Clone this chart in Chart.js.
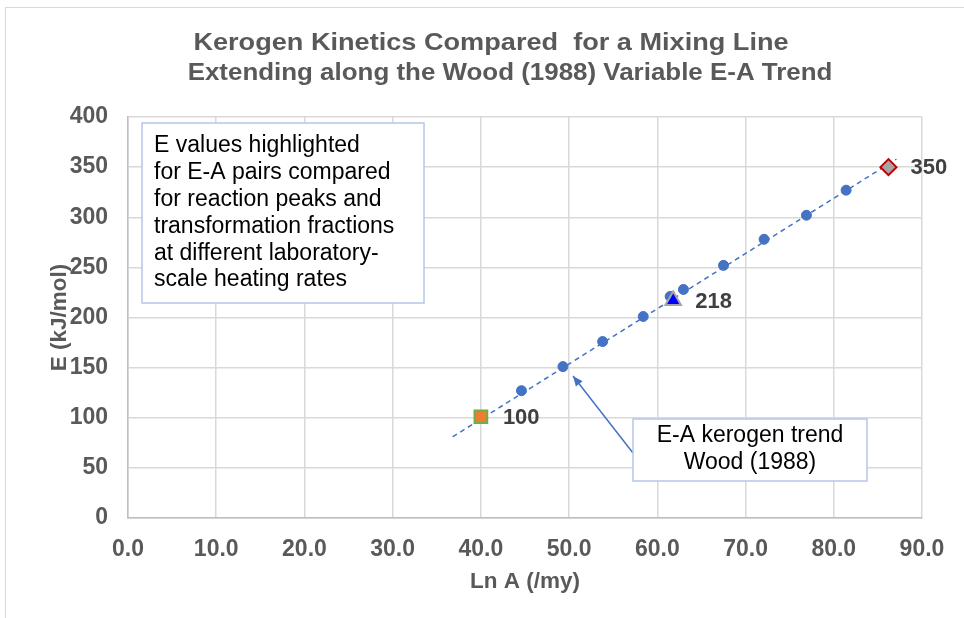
<!DOCTYPE html>
<html>
<head>
<meta charset="utf-8">
<script src="https://cdn.jsdelivr.net/npm/chart.js@4.4.0/dist/chart.umd.min.js"></script>
<style>
  body { margin: 0; background: #fff; }
  #frame { position: absolute; left: 5px; top: 7px; width: 970px; height: 620px;
           border-left: 1.5px solid #d9d9d9; border-top: 1.5px solid #d9d9d9; }
  #wrap { position: absolute; left: 0; top: 0; width: 964px; height: 618px; }
</style>
</head>
<body>
<div id="frame"></div>
<div id="wrap"><canvas id="myChart" width="964" height="618"></canvas></div>
<script>
// Ln A (/my) et E (kJ/mol) des points de la tendance Wood (1988)
var trendLnA = [44.6, 49.3, 53.8, 58.4, 61.45, 62.96, 67.5, 72.1, 76.9, 81.4];
var trendE = [127, 151, 176, 201, 221, 228, 252, 278, 302, 327];

// ligne pointillée de la tendance (extrémités)
var lineLnA = [36.8, 87.1];
var lineE = [81, 358];

// paires E-A mises en évidence
var highlightLnA = [40.0, 61.8, 86.2];
var highlightE = [101, 217, 350];
var highlightLabels = ['100', '218', '350'];

var xTicks = [0, 10, 20, 30, 40, 50, 60, 70, 80, 90];
var yTicks = [0, 50, 100, 150, 200, 250, 300, 350, 400];

var titleLines = ['Kerogen Kinetics Compared  for a Mixing Line',
                  'Extending along the Wood (1988) Variable E-A Trend'];
var noteLines = ['E values highlighted', 'for E-A pairs compared', 'for reaction peaks and',
                 'transformation fractions', 'at different laboratory-', 'scale heating rates'];
var trendNote = ['E-A kerogen trend', 'Wood (1988)'];

function pts(xs, ys) {
    return xs.map(function(x, i) { return { x: x, y: ys[i] }; });
}

var FONT = '"Liberation Sans", Arial, sans-serif';
var GREY = '#595959';

// dessine titre, encadrés, flèche et étiquettes
var extras = {
    id: 'extras',
    afterDraw: function(chart) {
        var ctx = chart.ctx;
        var xs = chart.scales.x, ys = chart.scales.y;
        ctx.save();

        // titre (étiré en largeur comme l'original)
        ctx.fillStyle = GREY;
        ctx.font = 'bold 24px ' + FONT;
        ctx.textAlign = 'center';
        ctx.textBaseline = 'middle';
        [[1.13, 491, 43], [1.08, 510, 73]].forEach(function(p, i) {
            ctx.save();
            ctx.scale(p[0], 1);
            ctx.fillText(titleLines[i], p[1] / p[0], p[2]);
            ctx.restore();
        });

        // étiquettes des points mis en évidence
        ctx.font = 'bold 22px ' + FONT;
        ctx.fillStyle = '#404040';
        ctx.textAlign = 'left';
        highlightLnA.forEach(function(x, i) {
            ctx.fillText(highlightLabels[i], xs.getPixelForValue(x) + 22, ys.getPixelForValue(highlightE[i]) + 1);
        });

        // encadré de gauche
        ctx.fillStyle = '#fff';
        ctx.fillRect(142, 123, 282, 180);
        ctx.strokeStyle = '#b4c7e7';
        ctx.lineWidth = 1.5;
        ctx.strokeRect(142, 123, 282, 180);
        ctx.fillStyle = '#000';
        ctx.font = '23px ' + FONT;
        ctx.textAlign = 'left';
        noteLines.forEach(function(t, i) {
            ctx.fillText(t, 154, 146 + i * 26.8);
        });

        // flèche vers la tendance
        var tipX = 573, tipY = 376, tailX = 633, tailY = 453;
        ctx.strokeStyle = '#4472c4';
        ctx.fillStyle = '#4472c4';
        ctx.lineWidth = 1.5;
        ctx.beginPath();
        ctx.moveTo(tailX, tailY);
        ctx.lineTo(tipX, tipY);
        ctx.stroke();
        var ang = Math.atan2(tipY - tailY, tipX - tailX);
        ctx.beginPath();
        ctx.moveTo(tipX, tipY);
        ctx.lineTo(tipX - 11 * Math.cos(ang - 0.4), tipY - 11 * Math.sin(ang - 0.4));
        ctx.lineTo(tipX - 11 * Math.cos(ang + 0.4), tipY - 11 * Math.sin(ang + 0.4));
        ctx.closePath();
        ctx.fill();

        // encadré de la tendance
        ctx.fillStyle = '#fff';
        ctx.fillRect(633, 419, 234, 62);
        ctx.strokeStyle = '#b4c7e7';
        ctx.strokeRect(633, 419, 234, 62);
        ctx.fillStyle = '#000';
        ctx.textAlign = 'center';
        ctx.fillText(trendNote[0], 750, 436);
        ctx.fillText(trendNote[1], 750, 463);

        ctx.restore();
    }
};

document.addEventListener('DOMContentLoaded', function() {
    var ctx = document.getElementById('myChart').getContext('2d');

    new Chart(ctx, {
        type: 'scatter',
        data: {
            datasets: [
                {
                    // ligne pointillée
                    data: pts(lineLnA, lineE),
                    showLine: true,
                    borderColor: '#4472c4',
                    borderWidth: 1.5,
                    borderDash: [5, 4],
                    pointRadius: 0,
                    order: 4
                },
                {
                    data: pts(trendLnA, trendE),
                    backgroundColor: '#4472c4',
                    borderColor: '#4472c4',
                    pointRadius: 5,
                    order: 3
                },
                {
                    data: pts([highlightLnA[0]], [highlightE[0]]),
                    pointStyle: 'rect',
                    backgroundColor: '#ed7d31',
                    borderColor: '#70ad47',
                    borderWidth: 2,
                    pointRadius: 9,
                    order: 1
                },
                {
                    data: pts([highlightLnA[1]], [highlightE[1]]),
                    pointStyle: 'triangle',
                    backgroundColor: '#0000ff',
                    borderColor: '#a5a5a5',
                    borderWidth: 2,
                    pointRadius: 9,
                    order: 1
                },
                {
                    data: pts([highlightLnA[2]], [highlightE[2]]),
                    pointStyle: 'rectRot',
                    backgroundColor: '#a5a5a5',
                    borderColor: '#c00000',
                    borderWidth: 2,
                    pointRadius: 8,
                    order: 1
                }
            ]
        },
        options: {
            responsive: false,
            animation: false,
            clip: false,
            layout: { padding: { left: 42, right: 42, top: 117, bottom: 19 } },
            plugins: {
                legend: { display: false },
                tooltip: { enabled: false }
            },
            scales: {
                x: {
                    type: 'linear',
                    min: 0,
                    max: 90,
                    afterBuildTicks: function(s) { s.ticks = xTicks.map(function(v) { return { value: v }; }); },
                    afterFit: function(s) { s.height = 81; },
                    grid: { color: '#d9d9d9', lineWidth: 1.5, drawTicks: false },
                    border: { color: '#bfbfbf', width: 1.5 },
                    ticks: {
                        padding: 18,
                        color: GREY,
                        font: { family: FONT, size: 23, weight: 'bold' },
                        callback: function(v) { return v.toFixed(1); }
                    },
                    title: {
                        display: true,
                        text: 'Ln A (/my)',
                        color: GREY,
                        font: { family: FONT, size: 22.5, weight: 'bold' },
                        padding: { top: 10 }
                    }
                },
                y: {
                    type: 'linear',
                    min: 0,
                    max: 400,
                    afterBuildTicks: function(s) { s.ticks = yTicks.map(function(v) { return { value: v }; }); },
                    afterFit: function(s) { s.width = 86; },
                    grid: { color: '#d9d9d9', lineWidth: 1.5, drawTicks: false },
                    border: { color: '#bfbfbf', width: 1.5 },
                    ticks: {
                        padding: 20,
                        color: GREY,
                        font: { family: FONT, size: 23, weight: 'bold' }
                    },
                    title: {
                        display: true,
                        text: 'E (kJ/mol)',
                        color: GREY,
                        font: { family: FONT, size: 22.5, weight: 'bold' },
                        padding: { bottom: 6 }
                    }
                }
            }
        },
        plugins: [extras]
    });
});
</script>
</body>
</html>
